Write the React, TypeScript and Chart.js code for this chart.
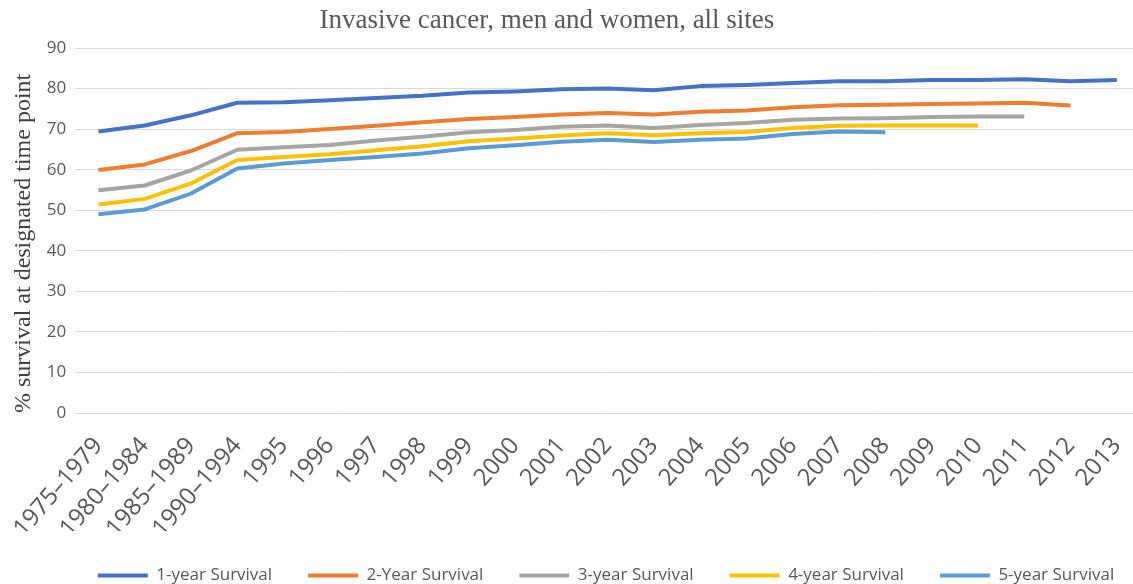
import React, { useEffect, useRef } from "react";
import { Chart, registerables } from "chart.js";

Chart.register(...registerables);

const categories = [
  "1975–1979", "1980–1984", "1985–1989", "1990–1994",
  "1995", "1996", "1997", "1998", "1999", "2000", "2001", "2002", "2003",
  "2004", "2005", "2006", "2007", "2008", "2009", "2010", "2011", "2012", "2013",
];

const oneYear = [69.4, 70.9, 73.4, 76.5, 76.6, 77.1, 77.7, 78.2, 79.0, 79.3, 79.8, 80.0, 79.6, 80.6, 80.9, 81.4, 81.8, 81.8, 82.1, 82.1, 82.3, 81.8, 82.1];
const twoYear = [59.9, 61.3, 64.6, 69.0, 69.3, 70.0, 70.8, 71.7, 72.5, 73.0, 73.6, 74.0, 73.6, 74.3, 74.6, 75.4, 75.9, 76.0, 76.2, 76.3, 76.5, 75.8, null];
const threeYear = [54.9, 56.1, 59.8, 64.9, 65.5, 66.1, 67.2, 68.1, 69.2, 69.8, 70.6, 70.9, 70.3, 71.0, 71.5, 72.3, 72.6, 72.7, 73.0, 73.1, 73.1, null, null];
const fourYear = [51.4, 52.8, 56.6, 62.4, 63.1, 63.8, 64.8, 65.8, 67.0, 67.7, 68.4, 69.0, 68.5, 69.0, 69.3, 70.3, 70.8, 70.9, 70.9, 70.9, null, null, null];
const fiveYear = [49.0, 50.2, 54.1, 60.3, 61.5, 62.4, 63.1, 64.0, 65.3, 66.0, 66.9, 67.4, 66.8, 67.4, 67.7, 68.8, 69.4, 69.2, null, null, null, null, null];

const seriesNames = ["1-year Survival", "2-Year Survival", "3-year Survival", "4-year Survival", "5-year Survival"];
const seriesColors = ["#4472C4", "#ED7D31", "#A5A5A5", "#FFC000", "#5B9BD5"];
const seriesValues = [oneYear, twoYear, threeYear, fourYear, fiveYear];

const yTicks = [0, 10, 20, 30, 40, 50, 60, 70, 80, 90];

const titleText = "Invasive cancer, men and women, all sites";
const yTitleText = "% survival at designated time point";

export default function App() {
  const ref = useRef<HTMLCanvasElement>(null);

  useEffect(() => {
    if (!ref.current) return;
    const chart = new Chart(ref.current, {
      type: "line",
      data: {
        labels: categories,
        datasets: seriesValues.map((vals, i) => ({
          label: seriesNames[i],
          data: vals,
          borderColor: seriesColors[i],
          backgroundColor: seriesColors[i],
          borderWidth: 4,
          pointRadius: 0,
          pointHoverRadius: 0,
          tension: 0,
          borderJoinStyle: "round" as const,
          fill: false,
          yAxisID: "y",
        })),
      },
      options: {
        responsive: false,
        animation: false,
        layout: { padding: { left: 5, right: 10, top: 48, bottom: 0 } },
        plugins: {
          title: { display: false },
          tooltip: { enabled: false },
          legend: {
            position: "bottom",
            labels: {
              boxWidth: 50,
              boxHeight: 4,
              padding: 36,
              color: "#595959",
              font: { family: "'Open Sans'", size: 17 },
              generateLabels: (c: any) => {
                const items = Chart.defaults.plugins.legend.labels.generateLabels(c);
                return items.map((it: any) => ({ ...it, fillStyle: it.strokeStyle, lineWidth: 0 }));
              },
            },
          },
        },
        scales: {
          x: {
            type: "category",
            offset: true,
            grid: { display: false },
            border: { display: false },
            afterFit: (scale: any) => {
              scale.height = 118;
            },
            ticks: {
              autoSkip: false,
              minRotation: 49,
              maxRotation: 49,
              padding: 11,
              color: "#595959",
              font: { family: "'Open Sans'", size: 24 },
            },
          },
          y: {
            min: 0,
            max: 90,
            afterBuildTicks: (scale: any) => {
              scale.ticks = yTicks.map((v) => ({ value: v }));
            },
            grid: { color: "#D9D9D9", lineWidth: 1, drawTicks: false },
            border: { display: false },
            ticks: {
              padding: 9,
              color: "#595959",
              font: { family: "'Open Sans'", size: 17 },
            },
            title: {
              display: true,
              text: yTitleText,
              align: "start",
              color: "#404040",
              padding: { top: 4, bottom: 0 },
              font: { family: "'Liberation Serif'", size: 24, weight: "normal" },
            },
          },
          spacer: {
            type: "linear",
            position: "right",
            display: true,
            grid: { display: false },
            border: { display: false },
            ticks: { display: false },
            afterFit: (scale: any) => {
              scale.width = 67;
            },
          },
        },
      },
    });
    return () => chart.destroy();
  }, []);

  return (
    <div style={{ position: "absolute", left: 0, top: 0, width: 1133, height: 584, overflow: "hidden", background: "#ffffff" }}>
      <canvas ref={ref} width={1217} height={594} style={{ position: "absolute", left: 0, top: 0, width: 1217, height: 594 }} />
      <div
        style={{
          position: "absolute",
          left: 0,
          top: 4,
          width: 1094,
          textAlign: "center",
          fontFamily: "'Liberation Serif', serif",
          fontSize: 27,
          lineHeight: "30px",
          color: "#595959",
          whiteSpace: "nowrap",
        }}
      >
        {titleText}
      </div>
    </div>
  );
}
